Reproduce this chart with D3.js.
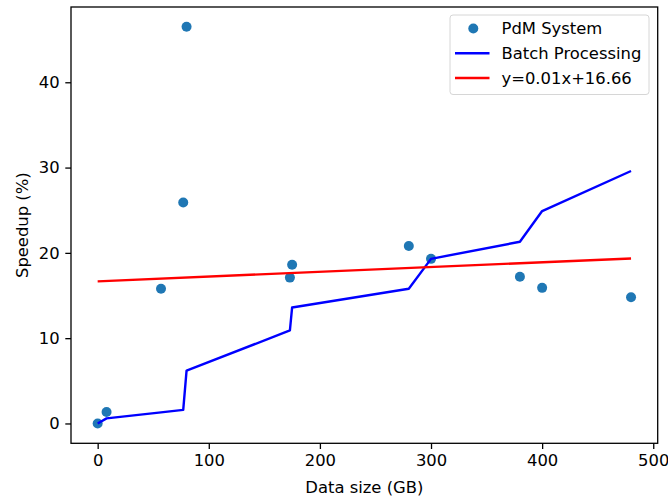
<!DOCTYPE html>
<html>
<head>
<meta charset="utf-8">
<title>Speedup vs data size</title>
<script src="https://d3js.org/d3.v7.min.js"></script>
<style>
    body { margin: 0; background: #fff; }
    text { font-family: "DejaVu Sans", sans-serif; fill: #000; }
</style>
</head>
<body>
<div id="output"></div>
<script>

// data
var dataSize = [0, 8, 57, 77, 80, 173, 175, 280, 300, 380, 400, 480];              // GB
var pdmSpeedup = [0, 1.35, 15.8, 25.9, 46.5, 17.1, 18.6, 20.8, 19.3, 17.2, 15.9, 14.8];
var batchSpeedup = [0, 0.6, 1.3, 1.6, 6.2, 10.9, 13.6, 15.8, 19.3, 21.3, 24.9, 29.6];
var fitIntercept = 16.66, fitSlope = 0.0056;
var fitLabel = "y=0.01x+16.66";
var xTicks = [0, 100, 200, 300, 400, 500];
var yTicks = [0, 10, 20, 30, 40];
var legendLabels = ["PdM System", "Batch Processing", fitLabel];

var w = 668, h = 497;
var margin = {top: 7, right: 10.3, bottom: 53.7, left: 71};
var wChart = w - margin.left - margin.right,
    hChart = h - margin.top - margin.bottom;
var fs = 16.4;      // 10pt at ~118dpi

// matplotlib style 5% padding around data
function padded(ext) {
    var d = (ext[1] - ext[0]) * 0.05;
    return [ext[0] - d, ext[1] + d];
}
var allY = pdmSpeedup.concat(batchSpeedup);

var x = d3.scaleLinear().domain(padded(d3.extent(dataSize))).range([0, wChart]);
var y = d3.scaleLinear().domain(padded(d3.extent(allY))).range([hChart, 0]);

var svg = d3.select("#output").append("svg")
    .attr("width", w)
    .attr("height", h);

var chart = svg.append("g")
    .attr("transform", "translate(" + margin.left + "," + margin.top + ")");

// batch processing line
var pts = dataSize.map(function(d, i) { return [d, batchSpeedup[i]]; });
chart.append("path")
    .datum(pts)
    .attr("fill", "none")
    .attr("stroke", "#0000ff")
    .attr("stroke-width", 2.4)
    .attr("stroke-linejoin", "round")
    .attr("d", d3.line().x(function(d) { return x(d[0]); }).y(function(d) { return y(d[1]); }));

// regression line
var xr = d3.extent(dataSize);
chart.append("path")
    .datum(xr.map(function(v) { return [v, fitIntercept + fitSlope * v]; }))
    .attr("fill", "none")
    .attr("stroke", "#ff0000")
    .attr("stroke-width", 2.4)
    .attr("d", d3.line().x(function(d) { return x(d[0]); }).y(function(d) { return y(d[1]); }));

// scatter points, drawn first in matplotlib but z-order: scatter under lines? keep under
chart.selectAll(".pt")
    .data(dataSize)
    .enter()
    .insert("circle", "path")
    .attr("class", "pt")
    .attr("r", 5)
    .attr("cx", function(d) { return x(d); })
    .attr("cy", function(d, i) { return y(pdmSpeedup[i]); })
    .attr("fill", "#1f77b4");

// axes
var tickLen = 5.7, tickPad = 5.7;
var xAxis = d3.axisBottom(x).tickValues(xTicks).tickSize(tickLen).tickPadding(tickPad).tickSizeOuter(0);
var yAxis = d3.axisLeft(y).tickValues(yTicks).tickSize(tickLen).tickPadding(tickPad).tickSizeOuter(0);

var gx = chart.append("g")
    .attr("transform", "translate(0," + hChart + ")")
    .call(xAxis);
var gy = chart.append("g").call(yAxis);

[gx, gy].forEach(function(g) {
    g.select(".domain").remove();
    g.selectAll("line").attr("stroke", "#000").attr("stroke-width", 1.3);
    g.selectAll("text")
        .attr("font-family", "DejaVu Sans")
        .attr("font-size", fs)
        .attr("fill", "#000");
});

// frame
chart.append("rect")
    .attr("width", wChart)
    .attr("height", hChart)
    .attr("fill", "none")
    .attr("stroke", "#000")
    .attr("stroke-width", 1.3);

// axis labels
svg.append("text")
    .attr("x", margin.left + wChart / 2)
    .attr("y", 493)
    .attr("text-anchor", "middle")
    .attr("font-size", fs)
    .text("Data size (GB)");

svg.append("text")
    .attr("transform", "translate(28," + (margin.top + hChart / 2) + ") rotate(-90)")
    .attr("text-anchor", "middle")
    .attr("font-size", fs)
    .text("Speedup (%)");

// legend
var lg = svg.append("g");
lg.append("rect")
    .attr("x", 450).attr("y", 15)
    .attr("width", 199).attr("height", 79.5)
    .attr("rx", 3).attr("ry", 3)
    .attr("fill", "#fff")
    .attr("fill-opacity", 0.8)
    .attr("stroke", "#d6d6d6")
    .attr("stroke-width", 1);

var rowY = [28.5, 53.2, 78];
lg.append("circle")
    .attr("cx", 473.3).attr("cy", rowY[0])
    .attr("r", 5)
    .attr("fill", "#1f77b4");
lg.append("line")
    .attr("x1", 455).attr("x2", 489.5)
    .attr("y1", rowY[1]).attr("y2", rowY[1])
    .attr("stroke", "#0000ff").attr("stroke-width", 2.4);
lg.append("line")
    .attr("x1", 455).attr("x2", 489.5)
    .attr("y1", rowY[2]).attr("y2", rowY[2])
    .attr("stroke", "#ff0000").attr("stroke-width", 2.4);

lg.selectAll(".lt")
    .data(legendLabels)
    .enter()
    .append("text")
    .attr("class", "lt")
    .attr("x", 501.5)
    .attr("y", function(d, i) { return rowY[i]; })
    .attr("dy", "0.36em")
    .attr("font-size", fs)
    .text(function(d) { return d; });

</script>
</body>
</html>
